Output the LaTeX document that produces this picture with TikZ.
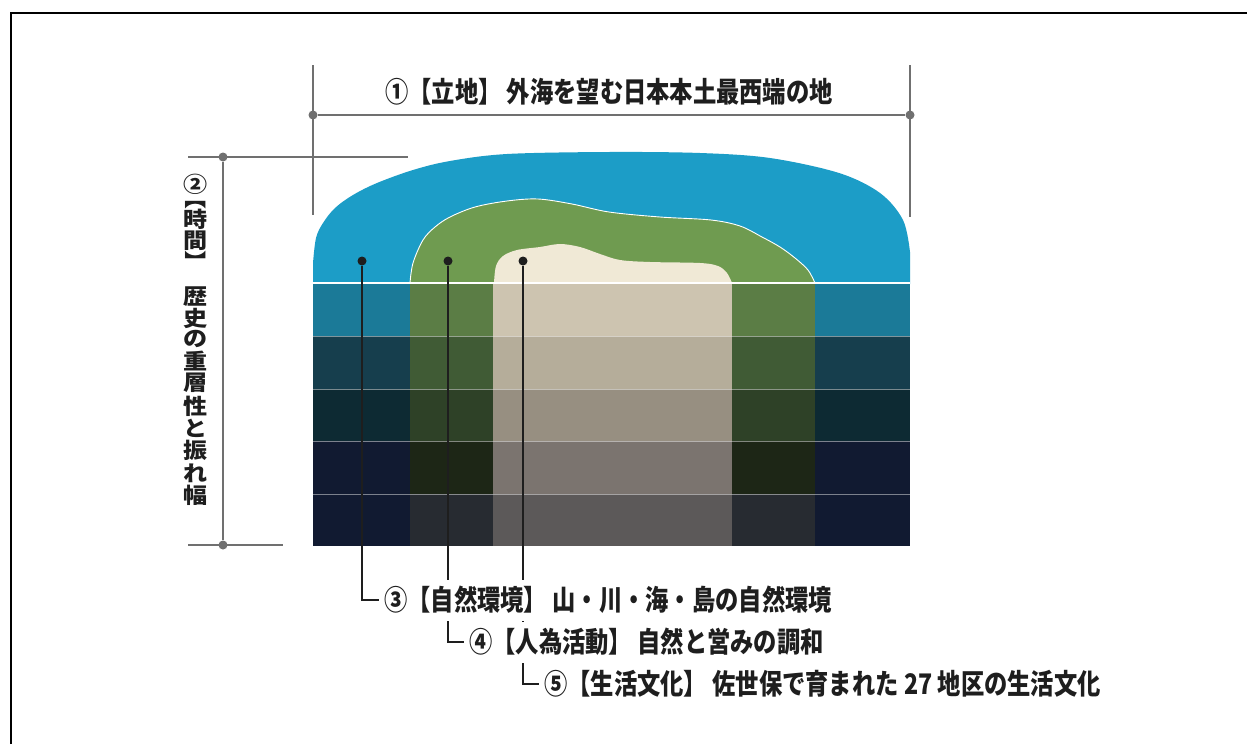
\documentclass[tikz,border=0pt]{standalone}
\usepackage{fontspec}
\usepackage{graphicx}
\newfontfamily\jp{Noto Sans CJK JP}
\definecolor{dimgray}{HTML}{707070}
\definecolor{inkc}{HTML}{1E1E1E}
\definecolor{bD}{HTML}{1C9DC7}
\definecolor{gD}{HTML}{6F9B50}
\definecolor{cD}{HTML}{F0E9D6}
\definecolor{bA}{HTML}{1B7A98}\definecolor{gA}{HTML}{5B7D45}\definecolor{cA}{HTML}{CDC4B0}
\definecolor{bB}{HTML}{163E4D}\definecolor{gB}{HTML}{405B35}\definecolor{cB}{HTML}{B5AD9A}
\definecolor{bC}{HTML}{0D2A33}\definecolor{gC}{HTML}{2E4127}\definecolor{cC}{HTML}{978F81}
\definecolor{bE}{HTML}{111A31}\definecolor{gE}{HTML}{1D2616}\definecolor{cE}{HTML}{7B746F}
\definecolor{bF}{HTML}{111A31}\definecolor{gF}{HTML}{272B31}\definecolor{cF}{HTML}{5C5959}
\newcommand{\tallt}[1]{\scalebox{0.97}[1.18]{#1}}
\newcommand{\widec}[1]{\scalebox{1.12}[1]{#1}}
\begin{document}
\begin{tikzpicture}[x=1pt,y=-1pt,
  dimline/.style={draw=dimgray, line width=2pt},
  gdot/.style={circle, fill=dimgray, inner sep=0pt, minimum size=9pt},
  bdot/.style={circle, fill=inkc, inner sep=0pt, minimum size=9pt},
  conn/.style={draw=inkc, line width=2.2pt},
  lab/.style={font=\jp\bfseries\fontsize{24}{24}\selectfont, text=inkc, fill=white, inner xsep=5pt, inner ysep=0pt, minimum height=41pt, anchor=west},
  vch/.style={font=\jp\bfseries\fontsize{21.5}{21.5}\selectfont, text=inkc, inner sep=0pt},
  vbr/.style={font=\jp\bfseries\fontsize{21.5}{21.5}\selectfont, text=inkc, inner sep=0pt, rotate=-90},
  sep/.style={draw=white, line width=0.8pt, opacity=0.45}]
\useasboundingbox (0,0) rectangle (1247,744);
\fill[white] (0,0) rectangle (1247,744);
% frame
\draw[line width=2.5pt, black] (11,744) -- (11,13) -- (1247,13);

% domes
\fill[bD] (313,284) -- plot[smooth,tension=0.55] coordinates {(313,263) (316,238) (323,223) (335,208) (353,195) (377,183) (413,170) (450,161) (507,154) (609,152) (700,153) (770,158) (839,173) (880,193) (903,220) (910,252)} -- (910,284) -- cycle;
\fill[gD] (410,284) -- plot[smooth,tension=0.55] coordinates {(410,283) (413,263) (423,240) (435,227) (450,217) (475,207) (507,201) (538,199) (572,204) (609,212) (660,217) (711,220) (740,226) (762,237) (780,247) (795,258) (808,270) (815,283)} -- (815,284) -- cycle;
\draw[white, line width=0.9pt] plot[smooth,tension=0.55] coordinates {(410,283) (413,263) (423,240) (435,227) (450,217) (475,207) (507,201) (538,199) (572,204) (609,212) (660,217) (711,220) (740,226) (762,237) (780,247) (795,258) (808,270) (815,283)};
\fill[cD] (493,284) -- plot[smooth,tension=0.55] coordinates {(494,283) (496,266) (503,256) (517,250) (540,247) (560,244) (580,247) (600,254) (620,260) (650,262) (700,263) (718,266) (727,273) (732,283)} -- (732,284) -- cycle;

% bands
\foreach \t/\b/\cb/\cg/\cc in {283/336/bA/gA/cA, 336/389/bB/gB/cB, 389/441/bC/gC/cC, 441/494/bE/gE/cE, 494/546/bF/gF/cF}{
  \fill[\cb] (313,\t) rectangle (410,\b);
  \fill[\cb] (815,\t) rectangle (910,\b);
  \fill[\cg] (410,\t) rectangle (493,\b);
  \fill[\cg] (732,\t) rectangle (815,\b);
  \fill[\cc] (493,\t) rectangle (732,\b);
}
\draw[white, line width=1.2pt] (313,283) -- (910,283);
\foreach \yy in {336,389,441,494}{ \draw[sep] (313,\yy) -- (910,\yy); }

% dimension 1
\coordinate (tA1) at (313,65); \coordinate (tA2) at (313,215);
\coordinate (tB1) at (910,65); \coordinate (tB2) at (910,217);
\draw[dimline] (tA1) -- (tA2);
\draw[dimline] (tB1) -- (tB2);
\node[gdot] (dA) at (313,115) {};
\node[gdot] (dB) at (910,115) {};
\draw[dimline] (dA) -- (dB);
\node[font=\jp\bfseries\fontsize{24}{24}\selectfont, text=inkc, inner sep=0pt] (t1) at (609,92) {\tallt{①【立地】 外海を望む日本本土最西端の地}};

% dimension 2
\coordinate (tC1) at (188,157); \coordinate (tC2) at (408,157);
\coordinate (tD1) at (188,545); \coordinate (tD2) at (283,545);
\draw[dimline] (tC1) -- (tC2);
\draw[dimline] (tD1) -- (tD2);
\node[gdot] (dC) at (223,157) {};
\node[gdot] (dD) at (223,545) {};
\draw[dimline] (dC) -- (dD);
\node[vch] (v1) at (196,184) {\widec{②}};
\node[vbr] (v2) at (196,198) {\widec{【}};
\node[vch] (v3) at (196,219) {\widec{時}};
\node[vch] (v4) at (196,241) {\widec{間}};
\node[vbr] (v5) at (196,263) {\widec{】}};
\foreach \yy/\ch [count=\i] in {297/歴,318/史,339/の,361/重,383/層,406/性,428/と,450/振,473/れ,495/幅}{
  \node[vch] (w\i) at (196,\yy) {\widec{\ch}};
}

% connectors
\node[bdot] (d1) at (362,261) {};
\node[bdot] (d2) at (448,261) {};
\node[bdot] (d3) at (523,261) {};
\node[lab, fill=none] (t3) at (379,600) {\phantom{③}};
\node[lab, fill=none] (t4) at (464,642) {\phantom{④}};
\node[lab, fill=none] (t5) at (539,684) {\phantom{⑤}};
\draw[conn] (d1) |- (t3.west);
\draw[conn] (d2) |- (t4.west);
\draw[conn] (d3) |- (t5.west);
\node[lab] (t3b) at (t3.west) {\tallt{③【自然環境】 山・川・海・島の自然環境}};
\node[lab] (t4b) at (t4.west) {\tallt{④【人為活動】 自然と営みの調和}};
\node[lab] (t5b) at (t5.west) {\tallt{⑤【生活文化】 佐世保で育まれた 27 地区の生活文化}};
\end{tikzpicture}
\end{document}
